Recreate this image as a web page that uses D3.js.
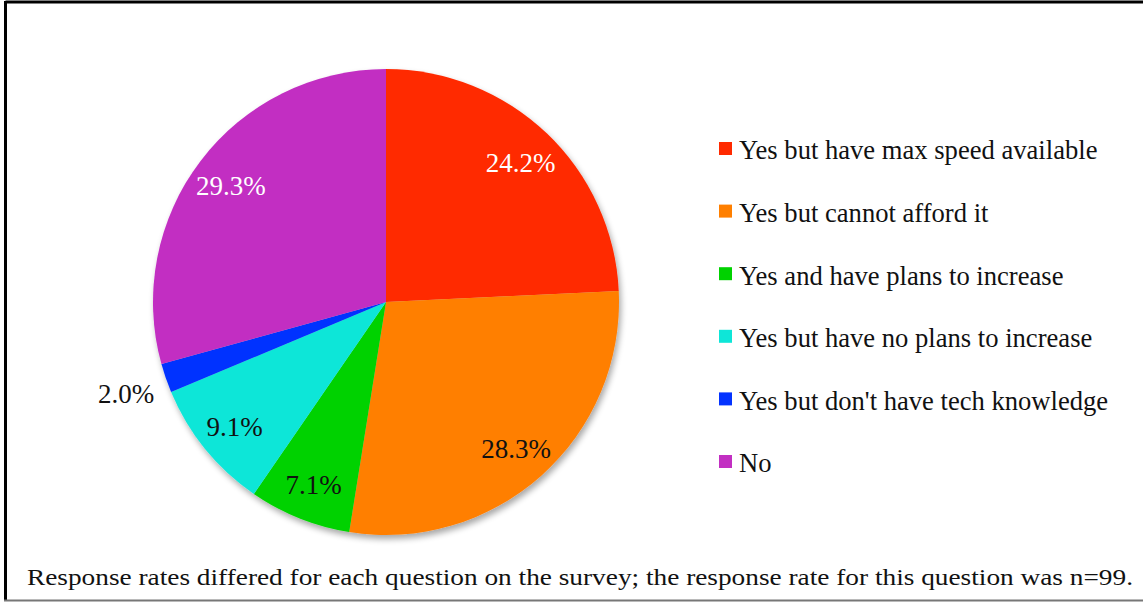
<!DOCTYPE html>
<html>
<head>
<meta charset="utf-8">
<script src="https://cdn.jsdelivr.net/npm/d3@7"></script>
<style>
html,body{margin:0;padding:0;background:#fff;}
svg{display:block;}
text{font-family:"Liberation Serif","Times New Roman",serif;}
</style>
</head>
<body>
<svg id="chart" width="1143" height="603"></svg>
<script>
const categories = ["Yes but have max speed available","Yes but cannot afford it","Yes and have plans to increase","Yes but have no plans to increase","Yes but don't have tech knowledge","No"];
const counts = [24, 28, 7, 9, 2, 29];
const percentLabels = ["24.2%","28.3%","7.1%","9.1%","2.0%","29.3%"];
const colors = ["#FF2A00","#FF7F00","#00D200","#0EE6D8","#0433FF","#C22FC2"];
const labelColors = ["#fff","#111","#111","#111","#111","#fff"];
const footnote = "Response rates differed for each question on the survey; the response rate for this question was n=99.";

const svg = d3.select("#chart");
const W = 1143, H = 603;

// frame
svg.append("line").attr("x1",5.5).attr("x2",W+5).attr("y1",2).attr("y2",2).attr("stroke","#000").attr("stroke-width",3);
svg.append("line").attr("x1",5.5).attr("x2",5.5).attr("y1",1).attr("y2",601).attr("stroke","#000").attr("stroke-width",3);
svg.append("line").attr("x1",4).attr("x2",W+5).attr("y1",600.5).attr("y2",600.5).attr("stroke","#777").attr("stroke-width",2);

const defs = svg.append("defs");
const f = defs.append("filter").attr("id","shadow").attr("x","-10%").attr("y","-10%").attr("width","130%").attr("height","130%");
f.append("feGaussianBlur").attr("in","SourceAlpha").attr("stdDeviation",3).attr("result","b");
f.append("feOffset").attr("in","b").attr("dx",2).attr("dy",4).attr("result","o");
f.append("feComponentTransfer").attr("in","o").attr("result","c").append("feFuncA").attr("type","linear").attr("slope",0.35);
const m = f.append("feMerge"); m.append("feMergeNode").attr("in","c"); m.append("feMergeNode").attr("in","SourceGraphic");

const cx = 386, cy = 302, R = 233;
const pie = d3.pie().sort(null).value(d => d)(counts);
const arc = d3.arc().innerRadius(0).outerRadius(R);
const labelArc = d3.arc().innerRadius(195).outerRadius(195);
const outArc = d3.arc().innerRadius(275).outerRadius(275);
const total = d3.sum(counts);

const g = svg.append("g").attr("transform",`translate(${cx},${cy})`);
g.append("g").attr("filter","url(#shadow)")
 .selectAll("path").data(pie).join("path")
 .attr("d",arc).attr("fill",(d,i)=>colors[i]);

g.selectAll("text.lbl").data(pie).join("text").attr("class","lbl")
 .attr("transform",d => {
   const outside = d.value/total < 0.03;
   const c = (outside ? outArc : labelArc).centroid(d);
   return `translate(${c[0]},${c[1]})`;
 })
 .attr("text-anchor","middle").attr("dy","0.4em")
 .attr("font-size",27)
 .attr("fill",(d,i)=> d.value/total < 0.03 ? "#111" : labelColors[i])
 .text((d,i)=>percentLabels[i]);

// legend
const ly = d3.scalePoint().domain(categories).range([150,463]);
const leg = svg.append("g").selectAll("g").data(categories).join("g")
 .attr("transform",d=>`translate(719,${ly(d)})`);
leg.append("rect").attr("x",0).attr("y",-8).attr("width",13).attr("height",13).attr("fill",(d,i)=>colors[i]);
leg.append("text").attr("x",20).attr("dy","0.35em").attr("font-size",26.6).attr("fill","#111").text(d=>d);

svg.append("text").attr("x",27).attr("y",585).attr("font-size",24)
 .attr("textLength",1106).attr("lengthAdjust","spacingAndGlyphs")
 .attr("fill","#111").text(footnote);
</script>
</body>
</html>
